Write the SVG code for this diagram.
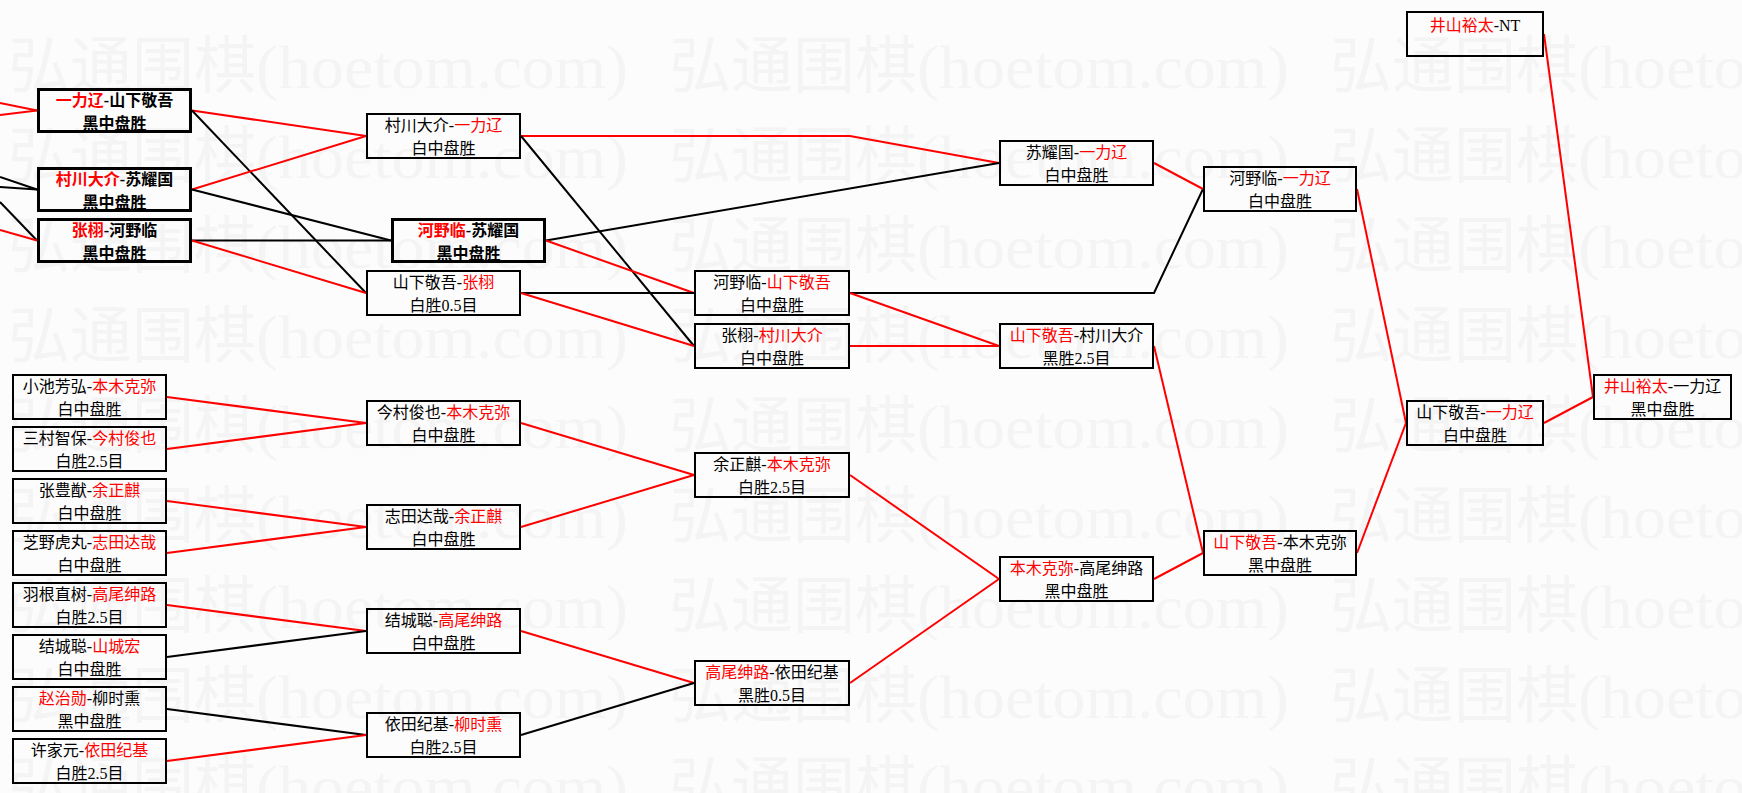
<svg xmlns="http://www.w3.org/2000/svg" xmlns:xlink="http://www.w3.org/1999/xlink" width="1742" height="793" viewBox="0 0 1742 793">
<style>
.bg{fill:#fcfcfc}
.wmc{font-family:"Noto Sans CJK SC",sans-serif;font-size:62px;fill:#f4f4f4}
.wml{font-family:"Liberation Serif",serif;font-size:62px;fill:#f4f4f4}
.box{fill:none;stroke:#000;stroke-width:2}
.boxb{fill:none;stroke:#000;stroke-width:3}
.t{font-family:"Liberation Serif","Noto Sans CJK SC",serif;font-size:16px;text-anchor:middle;fill:#000}
.b{font-weight:bold}
.r{fill:#ff0000}
.lr{stroke:#ff0000;stroke-width:2;fill:none}
.lk{stroke:#000;stroke-width:2;fill:none}
</style>
<defs>
<g id="wm">
<text class="wmc" x="0" y="0">弘通围棋</text>
<text class="wml" x="248" y="0" textLength="372" lengthAdjust="spacingAndGlyphs">(hoetom.com)</text>
</g>
</defs>
<rect class="bg" x="0" y="0" width="1742" height="793"/>
<g id="watermark">
<use xlink:href="#wm" x="8" y="88"/><use xlink:href="#wm" x="669" y="88"/><use xlink:href="#wm" x="1330" y="88"/>
<use xlink:href="#wm" x="8" y="178"/><use xlink:href="#wm" x="669" y="178"/><use xlink:href="#wm" x="1330" y="178"/>
<use xlink:href="#wm" x="8" y="268"/><use xlink:href="#wm" x="669" y="268"/><use xlink:href="#wm" x="1330" y="268"/>
<use xlink:href="#wm" x="8" y="358"/><use xlink:href="#wm" x="669" y="358"/><use xlink:href="#wm" x="1330" y="358"/>
<use xlink:href="#wm" x="8" y="448"/><use xlink:href="#wm" x="669" y="448"/><use xlink:href="#wm" x="1330" y="448"/>
<use xlink:href="#wm" x="8" y="538"/><use xlink:href="#wm" x="669" y="538"/><use xlink:href="#wm" x="1330" y="538"/>
<use xlink:href="#wm" x="8" y="628"/><use xlink:href="#wm" x="669" y="628"/><use xlink:href="#wm" x="1330" y="628"/>
<use xlink:href="#wm" x="8" y="718"/><use xlink:href="#wm" x="669" y="718"/><use xlink:href="#wm" x="1330" y="718"/>
<use xlink:href="#wm" x="8" y="808"/><use xlink:href="#wm" x="669" y="808"/><use xlink:href="#wm" x="1330" y="808"/>
</g>
<g id="connectors">
<line class="lr" x1="0" y1="103" x2="37" y2="110.5"/>
<line class="lr" x1="0" y1="115" x2="37" y2="110.5"/>
<line class="lk" x1="0" y1="177" x2="37" y2="189.5"/>
<line class="lk" x1="0" y1="187" x2="37" y2="189.5"/>
<line class="lk" x1="0" y1="202" x2="37" y2="240.5"/>
<line class="lr" x1="0" y1="230" x2="37" y2="240.5"/>
<line class="lr" x1="192" y1="110.5" x2="366" y2="136"/>
<line class="lk" x1="192" y1="110.5" x2="366" y2="293"/>
<line class="lr" x1="192" y1="189.5" x2="366" y2="136"/>
<line class="lk" x1="192" y1="189.5" x2="391" y2="240.5"/>
<line class="lk" x1="192" y1="240.5" x2="391" y2="240.5"/>
<line class="lr" x1="192" y1="240.5" x2="366" y2="293"/>
<polyline class="lr" points="521,136 850,136 999,163"/>
<line class="lk" x1="521" y1="136" x2="694" y2="346"/>
<line class="lk" x1="546" y1="240.5" x2="999" y2="163"/>
<line class="lr" x1="546" y1="240.5" x2="694" y2="293"/>
<line class="lk" x1="521" y1="293" x2="694" y2="293"/>
<line class="lr" x1="521" y1="293" x2="694" y2="346"/>
<polyline class="lk" points="850,293 1154,293 1203,189"/>
<line class="lr" x1="850" y1="293" x2="999" y2="346"/>
<line class="lr" x1="850" y1="346" x2="999" y2="346"/>
<line class="lr" x1="1154" y1="163" x2="1203" y2="189"/>
<line class="lr" x1="1154" y1="346" x2="1203" y2="553"/>
<line class="lr" x1="1357" y1="189" x2="1406" y2="423"/>
<line class="lr" x1="1357" y1="553" x2="1406" y2="423"/>
<line class="lr" x1="1544" y1="34" x2="1593" y2="397"/>
<line class="lr" x1="1544" y1="423" x2="1593" y2="397"/>
<line class="lr" x1="167" y1="397" x2="366" y2="423"/>
<line class="lr" x1="167" y1="449" x2="366" y2="423"/>
<line class="lr" x1="167" y1="501" x2="366" y2="527"/>
<line class="lr" x1="167" y1="553" x2="366" y2="527"/>
<line class="lr" x1="167" y1="605" x2="366" y2="631"/>
<line class="lk" x1="167" y1="657" x2="366" y2="631"/>
<line class="lk" x1="167" y1="709" x2="366" y2="735"/>
<line class="lr" x1="167" y1="761" x2="366" y2="735"/>
<line class="lr" x1="521" y1="423" x2="694" y2="475"/>
<line class="lr" x1="521" y1="527" x2="694" y2="475"/>
<line class="lr" x1="521" y1="631" x2="694" y2="683"/>
<line class="lk" x1="521" y1="735" x2="694" y2="683"/>
<line class="lr" x1="850" y1="475" x2="999" y2="579"/>
<line class="lr" x1="850" y1="683" x2="999" y2="579"/>
<line class="lr" x1="1154" y1="579" x2="1203" y2="553"/>
</g>
<g id="A1"><rect class="boxb" x="38.5" y="89.5" width="152" height="42"/><text class="t b" x="114.5" y="106"><tspan class="r">一力辽</tspan>-山下敬吾</text><text class="t b" x="114.5" y="129">黑中盘胜</text></g>
<g id="A2"><rect class="boxb" x="38.5" y="168.5" width="152" height="42"/><text class="t b" x="114.5" y="185"><tspan class="r">村川大介</tspan>-苏耀国</text><text class="t b" x="114.5" y="208">黑中盘胜</text></g>
<g id="A3"><rect class="boxb" x="38.5" y="219.5" width="152" height="42"/><text class="t b" x="114.5" y="236"><tspan class="r">张栩</tspan>-河野临</text><text class="t b" x="114.5" y="259">黑中盘胜</text></g>
<g id="B1"><rect class="box" x="367" y="114" width="153" height="44"/><text class="t" x="443.5" y="131">村川大介-<tspan class="r">一力辽</tspan></text><text class="t" x="443.5" y="154">白中盘胜</text></g>
<g id="B2"><rect class="boxb" x="392.5" y="219.5" width="152" height="42"/><text class="t b" x="468.5" y="236"><tspan class="r">河野临</tspan>-苏耀国</text><text class="t b" x="468.5" y="259">黑中盘胜</text></g>
<g id="B3"><rect class="box" x="367" y="271" width="153" height="44"/><text class="t" x="443.5" y="288">山下敬吾-<tspan class="r">张栩</tspan></text><text class="t" x="443.5" y="311">白胜0.5目</text></g>
<g id="C1"><rect class="box" x="695" y="271" width="154" height="44"/><text class="t" x="772" y="288">河野临-<tspan class="r">山下敬吾</tspan></text><text class="t" x="772" y="311">白中盘胜</text></g>
<g id="C2"><rect class="box" x="695" y="324" width="154" height="44"/><text class="t" x="772" y="341">张栩-<tspan class="r">村川大介</tspan></text><text class="t" x="772" y="364">白中盘胜</text></g>
<g id="D1"><rect class="box" x="1000" y="141" width="153" height="44"/><text class="t" x="1076.5" y="158">苏耀国-<tspan class="r">一力辽</tspan></text><text class="t" x="1076.5" y="181">白中盘胜</text></g>
<g id="D2"><rect class="box" x="1000" y="324" width="153" height="44"/><text class="t" x="1076.5" y="341"><tspan class="r">山下敬吾</tspan>-村川大介</text><text class="t" x="1076.5" y="364">黑胜2.5目</text></g>
<g id="E1"><rect class="box" x="1204" y="167" width="152" height="44"/><text class="t" x="1280" y="184">河野临-<tspan class="r">一力辽</tspan></text><text class="t" x="1280" y="207">白中盘胜</text></g>
<g id="F0"><rect class="box" x="1407" y="12" width="136" height="44"/><text class="t" x="1475" y="31"><tspan class="r">井山裕太</tspan>-NT</text></g>
<g id="F1"><rect class="box" x="1407" y="401" width="136" height="44"/><text class="t" x="1475" y="418">山下敬吾-<tspan class="r">一力辽</tspan></text><text class="t" x="1475" y="441">白中盘胜</text></g>
<g id="FINAL"><rect class="box" x="1594" y="375" width="137" height="44"/><text class="t" x="1662.5" y="392"><tspan class="r">井山裕太</tspan>-一力辽</text><text class="t" x="1662.5" y="415">黑中盘胜</text></g>
<g id="E2"><rect class="box" x="1204" y="531" width="152" height="44"/><text class="t" x="1280" y="548"><tspan class="r">山下敬吾</tspan>-本木克弥</text><text class="t" x="1280" y="571">黑中盘胜</text></g>
<g id="D3"><rect class="box" x="1000" y="557" width="153" height="44"/><text class="t" x="1076.5" y="574"><tspan class="r">本木克弥</tspan>-高尾绅路</text><text class="t" x="1076.5" y="597">黑中盘胜</text></g>
<g id="C3"><rect class="box" x="695" y="453" width="154" height="44"/><text class="t" x="772" y="470">余正麒-<tspan class="r">本木克弥</tspan></text><text class="t" x="772" y="493">白胜2.5目</text></g>
<g id="C4"><rect class="box" x="695" y="661" width="154" height="44"/><text class="t" x="772" y="678"><tspan class="r">高尾绅路</tspan>-依田纪基</text><text class="t" x="772" y="701">黑胜0.5目</text></g>
<g id="B5"><rect class="box" x="367" y="401" width="153" height="44"/><text class="t" x="443.5" y="418">今村俊也-<tspan class="r">本木克弥</tspan></text><text class="t" x="443.5" y="441">白中盘胜</text></g>
<g id="B6"><rect class="box" x="367" y="505" width="153" height="44"/><text class="t" x="443.5" y="522">志田达哉-<tspan class="r">余正麒</tspan></text><text class="t" x="443.5" y="545">白中盘胜</text></g>
<g id="B7"><rect class="box" x="367" y="609" width="153" height="44"/><text class="t" x="443.5" y="626">结城聪-<tspan class="r">高尾绅路</tspan></text><text class="t" x="443.5" y="649">白中盘胜</text></g>
<g id="B8"><rect class="box" x="367" y="713" width="153" height="44"/><text class="t" x="443.5" y="730">依田纪基-<tspan class="r">柳时熏</tspan></text><text class="t" x="443.5" y="753">白胜2.5目</text></g>
<g id="L1"><rect class="box" x="13" y="375" width="153" height="44"/><text class="t" x="89.5" y="392">小池芳弘-<tspan class="r">本木克弥</tspan></text><text class="t" x="89.5" y="415">白中盘胜</text></g>
<g id="L2"><rect class="box" x="13" y="427" width="153" height="44"/><text class="t" x="89.5" y="444">三村智保-<tspan class="r">今村俊也</tspan></text><text class="t" x="89.5" y="467">白胜2.5目</text></g>
<g id="L3"><rect class="box" x="13" y="479" width="153" height="44"/><text class="t" x="89.5" y="496">张豊猷-<tspan class="r">余正麒</tspan></text><text class="t" x="89.5" y="519">白中盘胜</text></g>
<g id="L4"><rect class="box" x="13" y="531" width="153" height="44"/><text class="t" x="89.5" y="548">芝野虎丸-<tspan class="r">志田达哉</tspan></text><text class="t" x="89.5" y="571">白中盘胜</text></g>
<g id="L5"><rect class="box" x="13" y="583" width="153" height="44"/><text class="t" x="89.5" y="600">羽根直树-<tspan class="r">高尾绅路</tspan></text><text class="t" x="89.5" y="623">白胜2.5目</text></g>
<g id="L6"><rect class="box" x="13" y="635" width="153" height="44"/><text class="t" x="89.5" y="652">结城聪-<tspan class="r">山城宏</tspan></text><text class="t" x="89.5" y="675">白中盘胜</text></g>
<g id="L7"><rect class="box" x="13" y="687" width="153" height="44"/><text class="t" x="89.5" y="704"><tspan class="r">赵治勋</tspan>-柳时熏</text><text class="t" x="89.5" y="727">黑中盘胜</text></g>
<g id="L8"><rect class="box" x="13" y="739" width="153" height="44"/><text class="t" x="89.5" y="756">许家元-<tspan class="r">依田纪基</tspan></text><text class="t" x="89.5" y="779">白胜2.5目</text></g>
</svg>
